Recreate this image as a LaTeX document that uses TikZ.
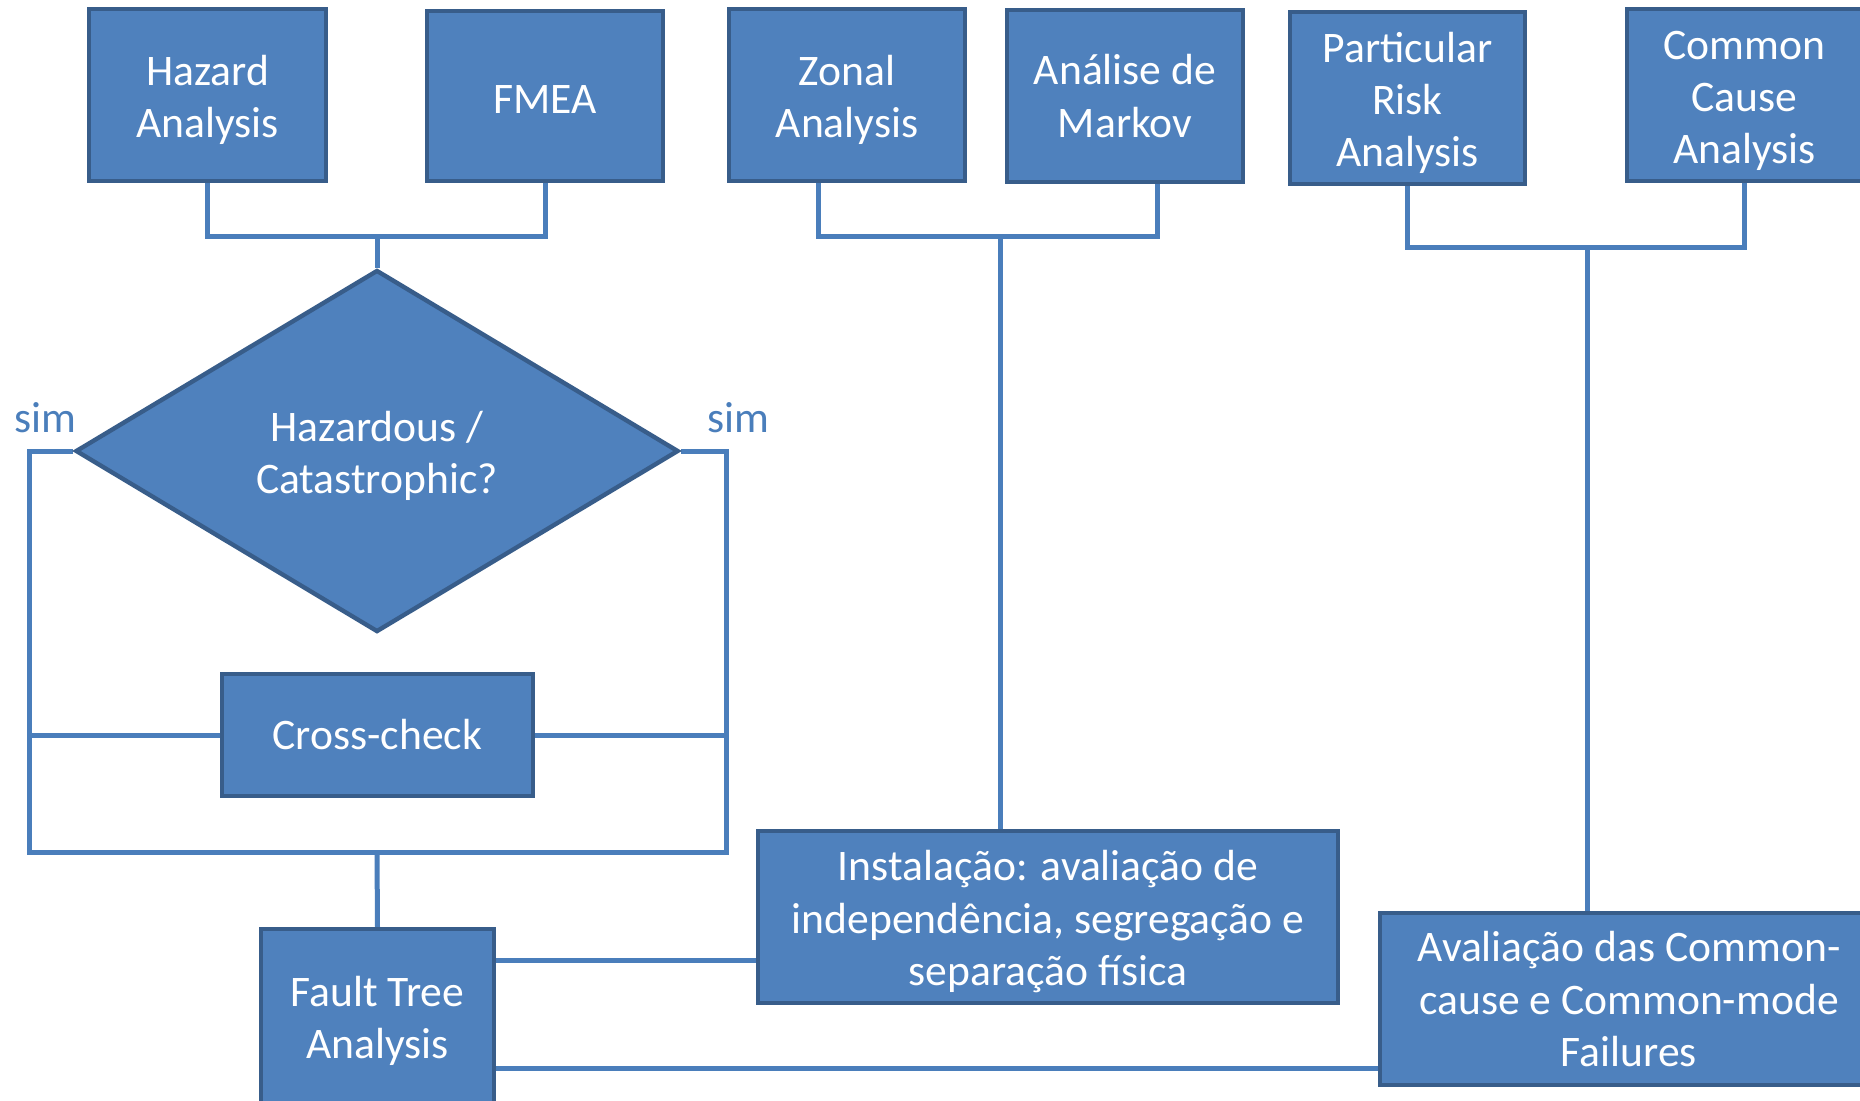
\documentclass[tikz,border=0pt]{standalone}
\usepackage{fontspec}
\setmainfont{Carlito}
\usetikzlibrary{shapes.geometric,calc}
\pgfdeclarelayer{bg}
\pgfsetlayers{bg,main}
\definecolor{boxfill}{HTML}{4F81BD}
\definecolor{boxline}{HTML}{385D8A}
\definecolor{connline}{HTML}{4A7EBB}
\newcommand\topstrut{\rule{0pt}{20pt}}
\newcommand\botstrut{\rule[-5pt]{0pt}{5pt}}
\tikzset{
  box/.style={draw=boxline, fill=boxfill, line width=2.2pt, text=white, align=center,
    inner sep=0pt, font=\fontsize{21.8}{26.2}\selectfont},
  decision/.style={diamond, draw=boxline, fill=boxfill, line width=2.2pt, text=white, align=center,
    inner sep=0pt, font=\fontsize{21.8}{26.2}\selectfont},
  conn/.style={draw=connline, line width=2.5pt},
  simlabel/.style={text=connline, font=\fontsize{21.8}{26.2}\selectfont, inner sep=0pt}
}
\begin{document}
\begin{tikzpicture}[x=0.5pt,y=-0.5pt]
\useasboundingbox (0,0) rectangle (1860,1100);
% top boxes
\node[box, minimum width=118.3pt, minimum height=85.8pt] (haz) at (207.5,95) {\topstrut Hazard\\Analysis};
\node[box, minimum width=117.8pt, minimum height=84.8pt] (fmea) at (545,96) {\rule{0pt}{17pt}FMEA};
\node[box, minimum width=117.8pt, minimum height=85.8pt] (zonal) at (847,95) {\topstrut Zonal\\Analysis};
\node[box, minimum width=117.8pt, minimum height=85.8pt] (markov) at (1125,96) {\topstrut Análise de\\Markov\botstrut};
\node[box, minimum width=117.3pt, minimum height=85.8pt] (pra) at (1407.5,98) {\topstrut Particular\\Risk\\Analysis};
\node[box, minimum width=117.8pt, minimum height=85.8pt] (cca) at (1744.5,95) {\topstrut Common\\Cause\\Analysis};
% decision
\node[decision, minimum width=301.5pt, minimum height=181pt] (dia) at (377,451) {\topstrut Hazardous /\\Catastrophic?};
\node[box, minimum width=155.3pt, minimum height=60.8pt] (cross) at (377.5,735) {Cross-check};
\node[box, minimum width=116.3pt, minimum height=86.8pt] (fta) at (377.5,1016) {\topstrut Fault Tree\\Analysis};
\node[box, minimum width=289.8pt, minimum height=85.8pt] (inst) at (1048,917) {\topstrut Instalação: avaliação de\\independência, segregação e\\separação física};
\node[box, minimum width=248.8pt, minimum height=85.8pt] (aval) at (1629,999) {\topstrut Avaliação das Common-\\cause e Common-mode\\Failures\botstrut};
% labels
\node[simlabel] (simL) at (45,418) {sim};
\node[simlabel] (simR) at (738,418) {sim};
% coordinates
\coordinate (j1) at (377,236);
\coordinate (j2) at (1000,236);
\coordinate (j3) at (1587,247);
\coordinate (lt) at (29,451);
\coordinate (rt) at (726,451);
\coordinate (lb) at (29,852);
\coordinate (rb) at (726,852);
\coordinate (jb) at (377,852);
\path ([yshift=28pt]fta.east) coordinate (f1);
\path ([yshift=-26pt]fta.east) coordinate (f2);
\begin{pgfonlayer}{bg}
\draw[conn] (haz.south) |- (j1) -| (fmea.south);
\draw[conn] (j1) -- (dia.north);
\draw[conn] ([xshift=-14.5pt]zonal.south) |- (j2) -| ([xshift=16pt]markov.south);
\draw[conn] (j2) -- (j2 |- inst.north);
\draw[conn] (pra.south) |- (j3) -| (cca.south);
\draw[conn] (j3) -- (j3 |- aval.north);
\draw[conn] (dia.west) -- (lt) -- (lb) -- (rb) -- (rt) -- (dia.east);
\draw[conn] (lt |- cross.west) -- (cross.west);
\draw[conn] (cross.east) -- (rt |- cross.east);
\draw[conn] (jb) -- (fta.north);
\draw[conn] (f1) -- (f1 -| inst.west);
\draw[conn] (f2) -- (f2 -| aval.west);
\end{pgfonlayer}
\end{tikzpicture}
\end{document}
